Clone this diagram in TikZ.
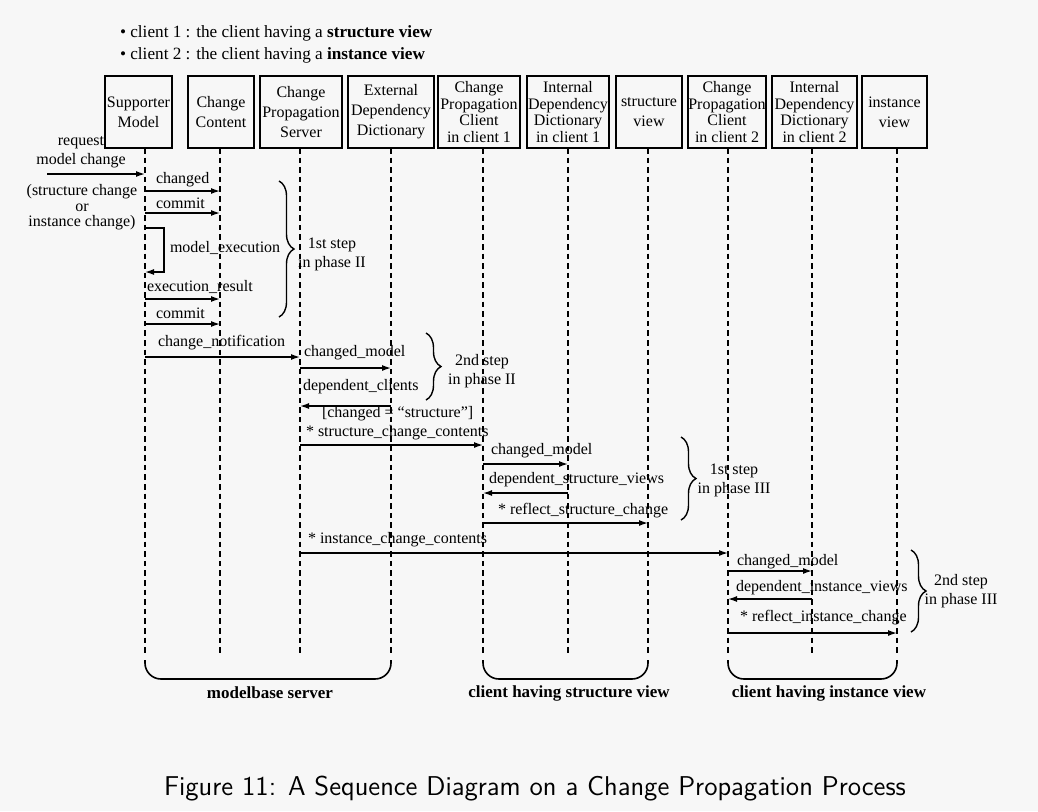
\documentclass[tikz,border=0pt]{standalone}
\usepackage{fontspec}
\setmainfont{Liberation Serif}
\usetikzlibrary{arrows.meta,decorations.pathreplacing}
\newcommand\callmsg[3]{\draw[msg] (t#1 |- 0,#3) -- (t#2 |- 0,#3);}
\begin{document}
\begin{tikzpicture}[x=0.5pt,y=-0.5pt,
  every node/.style={inner sep=0pt, outer sep=0pt},
  txt/.style={font=\fontsize{8}{9.5}\selectfont},
  lbl/.style={txt, anchor=west},
  box/.style={draw, line width=0.8pt, minimum height=36pt, align=center, font=\fontsize{8}{10}\selectfont},
  boxfour/.style={box, font=\fontsize{8}{8.2}\selectfont},
  lifeline/.style={line width=0.9pt, dash pattern=on 2.8pt off 2pt},
  msg/.style={line width=0.7pt, -{Latex[length=4.5pt,width=3pt]}},
  stepbrace/.style={decorate, decoration={brace, amplitude=7.5pt}, line width=0.7pt},
  group/.style={line width=0.8pt, rounded corners=8pt},
  grouplbl/.style={font=\fontsize{8.5}{10}\selectfont\bfseries},
]
\fill[black!3] (0,0) rectangle (1038,811);
\useasboundingbox (0,0) rectangle (1038,811);

% legend
\node[anchor=west, font=\fontsize{8.6}{10}\selectfont] (leg1) at (120,33) {• client 1 : the client having a \textbf{structure view}};
\node[anchor=west, font=\fontsize{8.6}{10}\selectfont] (leg2) at (120,55) {• client 2 : the client having a \textbf{instance view}};

% objects
\node[box, minimum width=33.5pt] (sm) at (138.5,112) {Supporter\\Model};
\node[box, minimum width=33pt] (cc) at (221,112) {Change\\Content};
\node[box, minimum width=41pt] (cps) at (301,112) {Change\\Propagation\\Server};
\node[box, minimum width=43pt] (edd) at (391,112) {External\\Dependency\\Dictionary};
\node[boxfour, minimum width=41pt] (cpc1) at (479,112) {Change\\Propagation\\Client\\in client 1};
\node[boxfour, minimum width=41pt] (idd1) at (568,112) {Internal\\Dependency\\Dictionary\\in client 1};
\node[box, minimum width=33pt] (sv) at (649,112) {structure\\view};
\node[boxfour, minimum width=39pt] (cpc2) at (727,112) {Change\\Propagation\\Client\\in client 2};
\node[boxfour, minimum width=42.5pt] (idd2) at (814.5,112) {Internal\\Dependency\\Dictionary\\in client 2};
\node[box, minimum width=32.5pt] (iv) at (894.5,112) {instance\\view};

% lifelines
\foreach \n/\x in {1/145,2/220,3/300,4/391,5/483,6/568,7/648,8/728,9/812,10/897}{
  \coordinate (t\n) at (\x,148);
  \coordinate (b\n) at (\x,655);
  \draw[lifeline] (t\n) -- (b\n);
}

% incoming request
\node[txt, align=center, font=\fontsize{8}{9.5}\selectfont] (req) at (81,152.5) {request\\model change};
\coordinate (reqstart) at (47,174);
\draw[msg] (reqstart) -- (t1 |- reqstart);
\node[txt, align=center, font=\fontsize{8}{7.8}\selectfont] (kind) at (82,207.5) {(structure change\\or\\instance change)};

% phase II, step 1
\node[lbl] (m1) at (156,180) {changed};
\callmsg{1}{2}{191}
\node[lbl] (m2) at (156,203) {commit};
\callmsg{1}{2}{213}
\draw[msg] (t1 |- 0,228) -| (164,272) -- (t1 |- 0,272);
\node[lbl] (m3) at (170,248) {model\_execution};
\node[lbl] (m4) at (147,287) {execution\_result};
\callmsg{1}{2}{299}
\node[lbl] (m5) at (156,313) {commit};
\callmsg{1}{2}{324}
\draw[stepbrace] (279,181) -- (279,317);
\node[txt, align=center] (s1) at (332,254.5) {1st step\\in phase II};

% phase II, step 2
\node[lbl] (m6) at (158,343) {change\_notification};
\callmsg{1}{3}{357}
\node[lbl] (m7) at (304,353) {changed\_model};
\callmsg{3}{4}{368}
\node[lbl] (m8) at (303,387) {dependent\_clients};
\callmsg{4}{3}{406}
\draw[stepbrace] (426,333) -- (426,400);
\node[txt, align=center] (s2) at (482,371) {2nd step\\in phase II};

% phase III, step 1
\node[lbl] (m9) at (322,414) {[changed = “structure”]};
\node[lbl] (m10) at (306,433) {* structure\_change\_contents};
\callmsg{3}{5}{445}
\node[lbl] (m11) at (491,451) {changed\_model};
\callmsg{5}{6}{464}
\node[lbl] (m12) at (489,480) {dependent\_structure\_views};
\callmsg{6}{5}{493}
\node[lbl] (m13) at (498,511) {* reflect\_structure\_change};
\callmsg{5}{7}{523}
\draw[stepbrace] (681,437) -- (681,520);
\node[txt, align=center] (s3) at (734,480) {1st step\\in phase III};

% phase III, step 2
\node[lbl] (m14) at (308,540) {* instance\_change\_contents};
\callmsg{3}{8}{553}
\node[lbl] (m15) at (737,562) {changed\_model};
\callmsg{8}{9}{571}
\node[lbl] (m16) at (736,588) {dependent\_instance\_views};
\callmsg{9}{8}{599}
\node[lbl] (m17) at (740,618) {* reflect\_instance\_change};
\callmsg{8}{10}{633}
\draw[stepbrace] (911,550) -- (911,632);
\node[txt, align=center] (s4) at (961,591.5) {2nd step\\in phase III};

% groups
\draw[group] (b1 |- 0,660) -- (b1 |- 0,679) -- (b4 |- 0,679) -- (b4 |- 0,660);
\draw[group] (b5 |- 0,660) -- (b5 |- 0,679) -- (b7 |- 0,679) -- (b7 |- 0,660);
\draw[group] (b8 |- 0,660) -- (b8 |- 0,679) -- (b10 |- 0,679) -- (b10 |- 0,660);
\node[grouplbl] (g1) at (270,693) {modelbase server};
\node[grouplbl] (g2) at (569,693) {client having structure view};
\node[grouplbl] (g3) at (829,693) {client having instance view};

% caption
\node[font=\sffamily\fontsize{13.6}{15}\selectfont] (cap) at (535,789) {Figure 11: A Sequence Diagram on a Change Propagation Process};
\end{tikzpicture}
\end{document}
